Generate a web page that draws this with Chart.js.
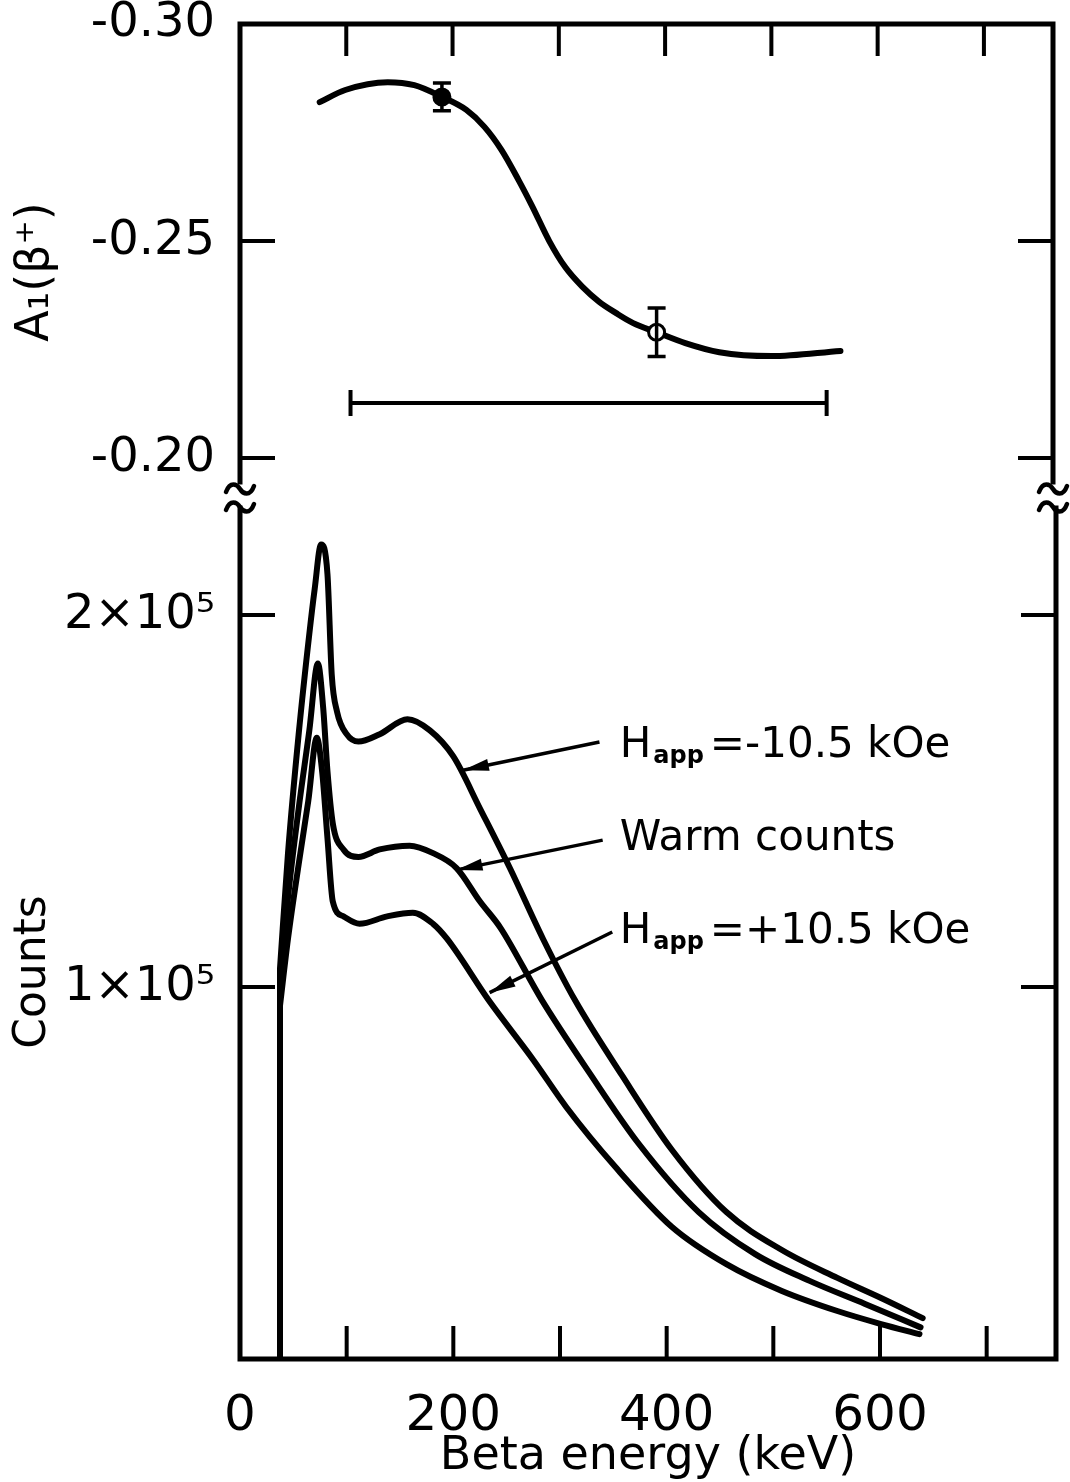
<!DOCTYPE html>
<html>
<head>
<meta charset="utf-8">
<script src="https://cdn.jsdelivr.net/npm/chart.js@4.4.1/dist/chart.umd.min.js"></script>
<style>
  body { margin: 0; background: #fff; }
  #wrap { position: relative; width: 1070px; height: 1482px; background: #fff; }
  canvas { position: absolute; left: 0; }
  #topChart { top: 0; }
  #bottomChart { top: 470px; }
</style>
</head>
<body>
<div id="wrap">
  <canvas id="topChart" width="1070" height="520"></canvas>
  <canvas id="bottomChart" width="1070" height="1012"></canvas>
</div>
<script>
// ---- values ----
const energyMax = 765;
const energyTicks = [0, 100, 200, 300, 400, 500, 600, 700];

// upper panel: A1(beta+) vs beta energy
const fitEnergy = [75, 99, 139, 164, 190, 213, 230, 246, 262, 275, 291, 306, 322, 338, 354, 370, 392, 419, 451, 500, 565];
const fitA = [-0.2820, -0.2848, -0.2866, -0.2859, -0.2832, -0.2802, -0.2763, -0.2710, -0.2641, -0.2580, -0.2500, -0.2440, -0.2395, -0.2360, -0.2334, -0.2311, -0.2290, -0.2265, -0.2244, -0.2235, -0.2247];
const pointEnergy = [190, 392];
const pointA = [-0.2832, -0.2290];
const pointErr = [0.0032, 0.0056];
const windowEnergy = [104, 552];
const windowA = -0.2127;
const asymTicks = [-0.30, -0.25, -0.20];

// lower panel: counts spectra (all rise from the same low-energy cutoff)
const cutoffEnergy = 37.5;
const cutoffCounts = [0, 1.05e5];
const eNeg = [37.5, 45, 55, 65, 70, 76, 82, 86, 91, 100, 111, 131, 157, 178, 200, 225, 253, 284, 314, 358, 405, 456, 508, 560, 601, 640];
const cNeg = [1.05e5, 1.36e5, 1.68e5, 1.95e5, 2.07e5, 2.19e5, 2.11e5, 1.84e5, 1.74e5, 1.68e5, 1.66e5, 1.68e5, 1.72e5, 1.69e5, 1.62e5, 1.48e5, 1.32e5, 1.13e5, 0.965e5, 0.763e5, 0.562e5, 0.395e5, 0.293e5, 0.218e5, 0.164e5, 0.110e5];
const eWarm = [37.5, 45, 55, 65, 73, 78, 82, 87, 97, 111, 131, 159, 181, 203, 225, 244, 283, 327, 374, 430, 483, 534, 586, 638];
const cWarm = [1.00e5, 1.24e5, 1.48e5, 1.69e5, 1.87e5, 1.75e5, 1.58e5, 1.44e5, 1.37e5, 1.35e5, 1.37e5, 1.38e5, 1.36e5, 1.32e5, 1.23e5, 1.16e5, 0.965e5, 0.772e5, 0.578e5, 0.395e5, 0.282e5, 0.210e5, 0.148e5, 0.085e5];
const ePos = [37.5, 45, 55, 64, 72, 77, 82, 87, 97, 112, 138, 162, 181, 194, 233, 275, 306, 352, 405, 456, 508, 560, 601, 637];
const cPos = [0.95e5, 1.13e5, 1.33e5, 1.50e5, 1.67e5, 1.58e5, 1.40e5, 1.23e5, 1.19e5, 1.17e5, 1.19e5, 1.20e5, 1.17e5, 1.13e5, 0.965e5, 0.804e5, 0.677e5, 0.516e5, 0.355e5, 0.255e5, 0.183e5, 0.129e5, 0.094e5, 0.067e5];
const countTicks = [1e5, 2e5];

// curve labels (main text, subscript, rest)
const labelMain = ['H', 'Warm counts', 'H'];
const labelSub = ['app', '', 'app'];
const labelRest = ['=-10.5 kOe', '', '=+10.5 kOe'];

// label anchors and arrows, in data units (keV, counts)
const labelAt = [[356, 1.618e5], [356, 1.368e5], [356, 1.118e5]];
const arrowFrom = [[337, 1.659e5], [340, 1.395e5], [349, 1.148e5]];
const arrowTo = [[209, 1.583e5], [203, 1.315e5], [234, 0.985e5]];

const FONT = '"DejaVu Sans", sans-serif';
const xy = (xs, ys) => xs.map((v, i) => ({x: v, y: ys[i]}));
const fixedTicks = list => s => { s.ticks = list.map(v => ({value: v})); };

function tilde(ctx, x, y) {
    ctx.beginPath();
    ctx.moveTo(x - 14, y + 3);
    ctx.bezierCurveTo(x - 10, y - 8, x - 3, y - 5, x, y);
    ctx.bezierCurveTo(x + 3, y + 5, x + 10, y + 8, x + 14, y - 3);
    ctx.stroke();
}

// box with inward ticks, axis break marks and rotated y title
const framePlugin = {
    id: 'frame',
    afterDraw(chart, args, opts) {
        const {ctx, chartArea: a, scales: {x, y}} = chart;
        ctx.save();
        ctx.strokeStyle = '#000';
        ctx.lineCap = 'square';
        ctx.lineWidth = 5;
        ctx.beginPath();
        if (opts.upper) {
            ctx.moveTo(a.left, a.bottom); ctx.lineTo(a.left, a.top);
            ctx.lineTo(a.right, a.top); ctx.lineTo(a.right, a.bottom);
        } else {
            ctx.moveTo(a.left, a.top); ctx.lineTo(a.left, a.bottom);
            ctx.lineTo(a.right, a.bottom); ctx.lineTo(a.right, a.top);
        }
        ctx.stroke();

        ctx.lineCap = 'butt';
        ctx.lineWidth = 4;
        ctx.beginPath();
        energyTicks.slice(1).forEach(v => {
            const px = x.getPixelForValue(v);
            if (opts.upper) { ctx.moveTo(px, a.top); ctx.lineTo(px, a.top + 32); }
            else { ctx.moveTo(px, a.bottom); ctx.lineTo(px, a.bottom - 33); }
        });
        opts.yTicks.forEach(v => {
            const py = y.getPixelForValue(v);
            if (py <= a.top + 2) return;
            ctx.moveTo(a.left, py); ctx.lineTo(a.left + 35, py);
            ctx.moveTo(a.right, py); ctx.lineTo(a.right - 35, py);
        });
        ctx.stroke();

        if (opts.upper) {
            ctx.lineWidth = 4.5;
            ctx.lineCap = 'round';
            [a.left, a.right].forEach(px => {
                tilde(ctx, px, a.bottom + 7);
                tilde(ctx, px, a.bottom + 25);
            });
        }

        ctx.fillStyle = '#000';
        ctx.font = opts.titleSize + 'px ' + FONT;
        ctx.textAlign = 'center';
        ctx.textBaseline = 'middle';
        ctx.translate(opts.titleX, opts.titleY);
        ctx.rotate(-Math.PI / 2);
        ctx.fillText(opts.title, 0, 0);
        ctx.restore();
    }
};

// vertical error bars on the measured points
const errorBarPlugin = {
    id: 'errorBars',
    afterDatasetsDraw(chart) {
        const {ctx, scales: {x, y}} = chart;
        ctx.save();
        ctx.strokeStyle = '#000';
        ctx.lineWidth = 3.5;
        ctx.beginPath();
        pointEnergy.forEach((e, i) => {
            const px = x.getPixelForValue(e);
            const y0 = y.getPixelForValue(pointA[i] - pointErr[i]);
            const y1 = y.getPixelForValue(pointA[i] + pointErr[i]);
            ctx.moveTo(px, y0); ctx.lineTo(px, y1);
            ctx.moveTo(px - 9, y0); ctx.lineTo(px + 9, y0);
            ctx.moveTo(px - 9, y1); ctx.lineTo(px + 9, y1);
        });
        ctx.stroke();
        ctx.restore();
    }
};

// arrows pointing from the labels to the curves
const labelPlugin = {
    id: 'curveLabels',
    afterDatasetsDraw(chart) {
        const {ctx, scales: {x, y}} = chart;
        ctx.save();
        ctx.strokeStyle = '#000';
        ctx.fillStyle = '#000';
        ctx.lineWidth = 3.5;
        for (let i = 0; i < labelMain.length; i++) {
            const x0 = x.getPixelForValue(arrowFrom[i][0]), y0 = y.getPixelForValue(arrowFrom[i][1]);
            const x1 = x.getPixelForValue(arrowTo[i][0]), y1 = y.getPixelForValue(arrowTo[i][1]);
            ctx.beginPath();
            ctx.moveTo(x0, y0); ctx.lineTo(x1, y1);
            ctx.stroke();
            const ang = Math.atan2(y1 - y0, x1 - x0);
            const bx = x1 - Math.cos(ang) * 26, by = y1 - Math.sin(ang) * 26;
            const nx = -Math.sin(ang) * 6, ny = Math.cos(ang) * 6;
            ctx.beginPath();
            ctx.moveTo(x1, y1);
            ctx.lineTo(bx + nx, by + ny);
            ctx.lineTo(bx - nx, by - ny);
            ctx.closePath();
            ctx.fill();

            let tx = x.getPixelForValue(labelAt[i][0]);
            const ty = y.getPixelForValue(labelAt[i][1]);
            ctx.textAlign = 'left';
            ctx.textBaseline = 'alphabetic';
            ctx.font = '42px ' + FONT;
            ctx.fillText(labelMain[i], tx, ty);
            tx += ctx.measureText(labelMain[i]).width;
            if (labelSub[i]) {
                ctx.font = 'bold 24px ' + FONT;
                ctx.fillText(labelSub[i], tx + 2, ty + 6);
                tx += ctx.measureText(labelSub[i]).width + 8;
            }
            if (labelRest[i]) {
                ctx.font = '42px ' + FONT;
                ctx.fillText(labelRest[i], tx, ty);
            }
        }
        ctx.restore();
    }
};

const tickFont = {family: FONT, size: 48};

new Chart(document.getElementById('topChart'), {
    type: 'line',
    data: {
        datasets: [{
            data: xy(fitEnergy, fitA),
            borderColor: '#000',
            borderWidth: 6,
            pointRadius: 0,
            cubicInterpolationMode: 'monotone',
            borderCapStyle: 'round',
            order: 2
        }, {
            data: xy(windowEnergy, windowEnergy.map(() => windowA)),
            borderColor: '#000',
            borderWidth: 4,
            pointStyle: 'line',
            pointRotation: 90,
            pointRadius: 13,
            pointBorderWidth: 4,
            pointBorderColor: '#000',
            order: 1
        }, {
            data: xy(pointEnergy, pointA),
            showLine: false,
            pointRadius: 8,
            pointBorderWidth: 3,
            pointBorderColor: '#000',
            pointBackgroundColor: ['#000', '#fff'],
            order: 0
        }]
    },
    options: {
        responsive: false,
        animation: false,
        devicePixelRatio: 1,
        events: [],
        layout: {padding: {left: 0, top: 24, right: 14, bottom: 38}},
        plugins: {
            legend: {display: false},
            tooltip: {enabled: false},
            frame: {upper: true, yTicks: asymTicks, title: 'A\u2081(\u03B2\u207A)', titleSize: 46, titleX: 36, titleY: 272}
        },
        scales: {
            x: {type: 'linear', min: 0, max: energyMax, display: false},
            y: {
                type: 'linear',
                min: -0.30,
                max: -0.1945,
                reverse: true,
                grid: {display: false, drawTicks: false},
                border: {display: false},
                afterBuildTicks: fixedTicks(asymTicks),
                ticks: {
                    padding: 25,
                    color: '#000',
                    font: tickFont,
                    callback: v => v.toFixed(2)
                },
                afterFit: s => { s.width = 240; s.paddingTop = 0; s.paddingBottom = 0; }
            }
        }
    },
    plugins: [framePlugin, errorBarPlugin]
});

const spectrum = (xs, ys) => ({
    data: xy(xs, ys),
    borderColor: '#000',
    borderWidth: 6,
    pointRadius: 0,
    cubicInterpolationMode: 'monotone',
    borderCapStyle: 'round',
    borderJoinStyle: 'round'
});

new Chart(document.getElementById('bottomChart'), {
    type: 'line',
    data: {
        datasets: [
            spectrum(eNeg, cNeg),
            spectrum(eWarm, cWarm),
            spectrum(ePos, cPos),
            {
                data: xy(cutoffCounts.map(() => cutoffEnergy), cutoffCounts),
                borderColor: '#000',
                borderWidth: 6,
                pointRadius: 0,
                tension: 0
            }
        ]
    },
    options: {
        responsive: false,
        animation: false,
        devicePixelRatio: 1,
        events: [],
        layout: {padding: {left: 0, top: 38, right: 14, bottom: 0}},
        plugins: {
            legend: {display: false},
            tooltip: {enabled: false},
            frame: {upper: false, yTicks: countTicks, title: 'Counts', titleSize: 44, titleX: 34, titleY: 502}
        },
        scales: {
            x: {
                type: 'linear',
                min: 0,
                max: energyMax,
                grid: {display: false, drawTicks: false},
                border: {display: false},
                afterBuildTicks: fixedTicks(energyTicks),
                ticks: {
                    autoSkip: false,
                    maxRotation: 0,
                    padding: 28,
                    color: '#000',
                    font: {family: FONT, size: 50},
                    callback: v => (v % 200 === 0 ? String(v) : '')
                },
                title: {
                    display: true,
                    text: 'Beta energy (keV)',
                    color: '#000',
                    font: {family: FONT, size: 46, lineHeight: 1.1},
                    padding: {top: 0, bottom: 0}
                },
                afterFit: s => { s.height = 123; s.paddingLeft = 0; s.paddingRight = 0; }
            },
            y: {
                type: 'linear',
                min: 0,
                max: 2.288e5,
                grid: {display: false, drawTicks: false},
                border: {display: false},
                afterBuildTicks: fixedTicks(countTicks),
                ticks: {
                    padding: 25,
                    color: '#000',
                    font: tickFont,
                    callback: v => (v / 1e5) + '\u00D710\u2075'
                },
                afterFit: s => { s.width = 240; s.paddingTop = 0; s.paddingBottom = 0; }
            }
        }
    },
    plugins: [framePlugin, labelPlugin]
});
</script>
</body>
</html>
